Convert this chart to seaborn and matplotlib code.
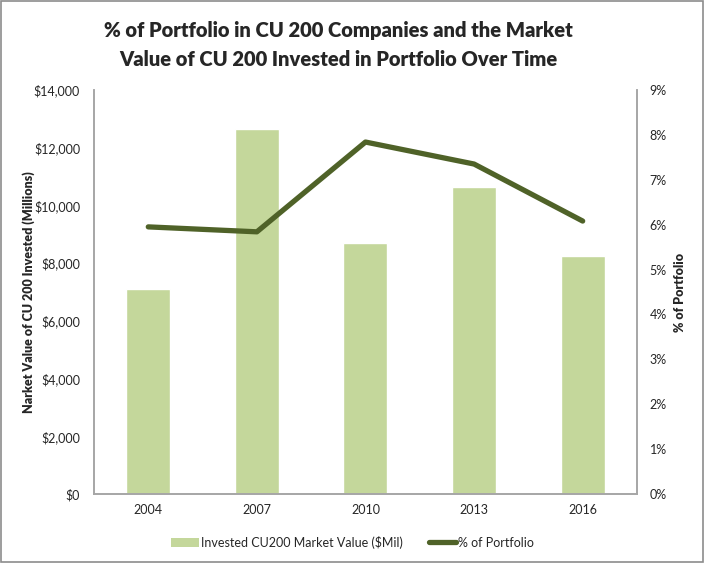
import matplotlib
matplotlib.use("Agg")
import matplotlib.pyplot as plt
import seaborn as sns
import pandas as pd
from matplotlib.ticker import FuncFormatter
from matplotlib.lines import Line2D
from matplotlib.patches import Patch

sns.set_theme(style="white")
plt.rcParams["font.family"] = ["Lato", "DejaVu Sans"]

# Data
years = ["2004", "2007", "2010", "2013", "2016"]
market_value = [7100, 12650, 8700, 10640, 8250]      # $ millions
pct_portfolio = [5.95, 5.84, 7.84, 7.35, 6.08]        # percent

bar_color = "#C4D79B"
line_color = "#4F6228"
axis_gray = "#A6A6A6"

df = pd.DataFrame({"year": years, "value": market_value, "pct": pct_portfolio})

fig = plt.figure(figsize=(7.04, 5.63), dpi=100)
ax = fig.add_axes([0.1335, 0.1226, 0.7713, 0.7176])

sns.barplot(data=df, x="year", y="value", color=bar_color, width=0.405,
            saturation=1, ax=ax)
ax.set_ylim(0, 14000)
ax.set_yticks(range(0, 14001, 2000))
ax.yaxis.set_major_formatter(FuncFormatter(lambda v, p: f"${v:,.0f}"))
ax.set_xlabel("")
ax.set_ylabel("Narket Value of CU 200 Invested (Millions)", fontsize=9,
              fontweight="heavy", labelpad=-1)
ax.tick_params(axis="y", labelsize=9, length=0, pad=10)
ax.tick_params(axis="x", labelsize=9, length=0, pad=7)

ax2 = ax.twinx()
sns.lineplot(data=df, x="year", y="pct", color=line_color, linewidth=3.8,
             ax=ax2, sort=False, solid_capstyle="round")
ax2.set_ylim(0, 9)
ax2.set_yticks(range(0, 10))
ax2.yaxis.set_major_formatter(FuncFormatter(lambda v, p: f"{v:.0f}%"))
ax2.set_ylabel("% of Portfolio", fontsize=9, fontweight="heavy", labelpad=5)
ax2.tick_params(axis="y", labelsize=9, length=0, pad=9)
ax2.set_xlim(-0.5, 4.5)
ax.set_xlim(-0.5, 4.5)

for a in (ax, ax2):
    a.grid(False)
    a.spines["top"].set_visible(False)
    for s in ("left", "right", "bottom"):
        a.spines[s].set_color(axis_gray)
        a.spines[s].set_linewidth(1.2)

fig.suptitle("% of Portfolio in CU 200 Companies and the Market\n"
             "Value of CU 200 Invested in Portfolio Over Time",
             x=0.48, y=0.962, fontsize=14.5, fontweight="heavy",
             linespacing=1.6)

handles = [Patch(facecolor=bar_color, edgecolor="none"),
           Line2D([0], [0], color=line_color, linewidth=3.8)]
labels = ["Invested CU200 Market Value ($Mil)", "% of Portfolio"]
fig.legend(handles, labels, loc="center", bbox_to_anchor=(0.501, 0.037),
           ncol=2, frameon=False, fontsize=9, handlelength=2.2,
           handletextpad=0.15, columnspacing=2.1)

border = plt.Rectangle((0.002, 0.002), 0.996, 0.996, transform=fig.transFigure,
                       fill=False, edgecolor="#8C8C8C", linewidth=1.2)
fig.patches.append(border)

fig.savefig("out.png", dpi=100)
